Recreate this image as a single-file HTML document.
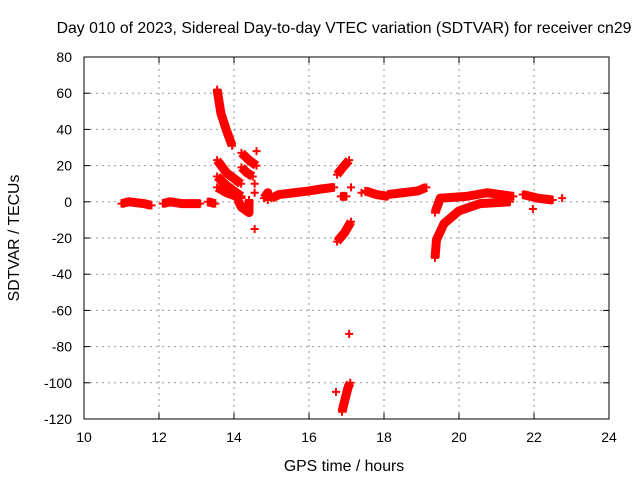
<!DOCTYPE html>
<html><head><meta charset="utf-8"><style>
body{margin:0;background:#fff;}
svg text{font-family:"Liberation Sans",sans-serif;font-size:14px;fill:#000;}
svg text.big{font-size:15.8px;}
</style></head><body>
<svg id="c" width="640" height="480">
<text class="big" x="344" y="33" text-anchor="middle">Day 010 of 2023, Sidereal Day-to-day VTEC variation (SDTVAR) for receiver cn29</text>
<text class="big" x="344" y="471" text-anchor="middle">GPS time / hours</text>
<text class="big" transform="translate(19,238) rotate(-90)" text-anchor="middle">SDTVAR / TECUs</text>
<g id="grid"></g><g id="marks"></g>
<rect x="84" y="57" width="525" height="362" fill="none" stroke="#000"/>
</svg>
<script>
const xTicks=[10,12,14,16,18,20,22,24];
const yTicks=[80,60,40,20,0,-20,-40,-60,-80,-100,-120];
const tracks=[
[[11.0,-1],[11.2,0],[11.4,-0.5],[11.6,-1],[11.8,-2]],
[[12.1,-1],[12.3,0],[12.6,-1],[12.9,-1],[13.1,-1]],
[[13.3,0],[13.5,-1]],
[[13.55,62],[13.65,49],[13.79,40],[13.95,31]],
[[13.55,23],[13.8,16],[14.19,10]],
[[13.55,14],[13.8,9],[14.2,3]],
[[13.55,8],[13.8,5],[14.2,2]],
[[14.1,1],[14.2,-3],[14.4,-6],[14.4,1]],
[[14.2,27],[14.4,23],[14.6,20]],
[[14.2,19],[14.35,16],[14.5,14]],
[[14.6,28]],[[14.55,10]],[[14.55,5]],[[14.55,-15]],
[[14.8,2],[14.9,5],[14.9,1]],
[[15.0,2],[15.2,4],[15.6,5],[16.0,6],[16.3,7],[16.67,8]],
[[17.12,8]],[[17.4,5]],
[[16.85,3],[17.0,3]],
[[16.75,15],[16.9,19],[17.07,23]],
[[16.75,-22],[16.95,-17],[17.12,-11]],
[[17.07,-73]],
[[16.72,-105]],
[[16.88,-116],[16.95,-110],[17.05,-102],[17.1,-100]],
[[17.5,6],[17.8,4],[18.1,3]],
[[18.1,4],[18.5,5],[18.9,6],[19.13,8]],
[[19.36,-31],[19.4,-21],[19.6,-12],[20.0,-5],[20.56,-1],[21.36,0]],
[[19.36,-6],[19.5,2],[20.2,3],[20.75,5],[21.45,3]],
[[21.7,4],[22.1,2],[22.5,1]],[[21.97,-4]],
[[22.75,2]]
];
const X=h=>84+(h-10)*37.5, Y=v=>201.8-v*1.81;
const NS="http://www.w3.org/2000/svg", c=document.getElementById('c');
const g=document.getElementById('grid'), m=document.getElementById('marks');
function mk(t,a,p){const e=document.createElementNS(NS,t);for(const k in a)e.setAttribute(k,a[k]);p.appendChild(e);return e;}
xTicks.forEach(t=>{const x=X(t);
 if(t>10&&t<24){const l=mk('line',{x1:x,x2:x,y1:57,y2:419,stroke:'#999','stroke-dasharray':'2,4'},g);
 
 }
 mk('line',{x1:x,x2:x,y1:419,y2:413,stroke:'#000'},g);mk('line',{x1:x,x2:x,y1:57,y2:63,stroke:'#000'},g);
 const tx=mk('text',{x:x,y:442,'text-anchor':'middle'},g);tx.textContent=t;
 
 });
yTicks.forEach(t=>{const y=Y(t);
 if(t<80&&t>-120){const l=mk('line',{x1:84,x2:609,y1:y,y2:y,stroke:'#999','stroke-dasharray':'2,4'},g);
 
 }
 mk('line',{x1:84,x2:90,y1:y,y2:y,stroke:'#000'},g);mk('line',{x1:609,x2:603,y1:y,y2:y,stroke:'#000'},g);
 const tx=mk('text',{x:72,y:y+5,'text-anchor':'end'},g);tx.textContent=t;
 
 });
tracks.forEach(tr=>{
 const grp=mk('g',{},m);
 
 
 if(tr.length>1)mk('polyline',{points:tr.map(p=>X(p[0])+','+Y(p[1])).join(' '),fill:'none',stroke:'#f00','stroke-width':9,'stroke-linejoin':'round'},grp);
 tr.forEach(p=>{const x=X(p[0]),y=Y(p[1]);
  mk('path',{d:`M${x-4},${y}h8M${x},${y-4}v8`,stroke:'#f00','stroke-width':2},grp);});
});
</script>
</body></html>
